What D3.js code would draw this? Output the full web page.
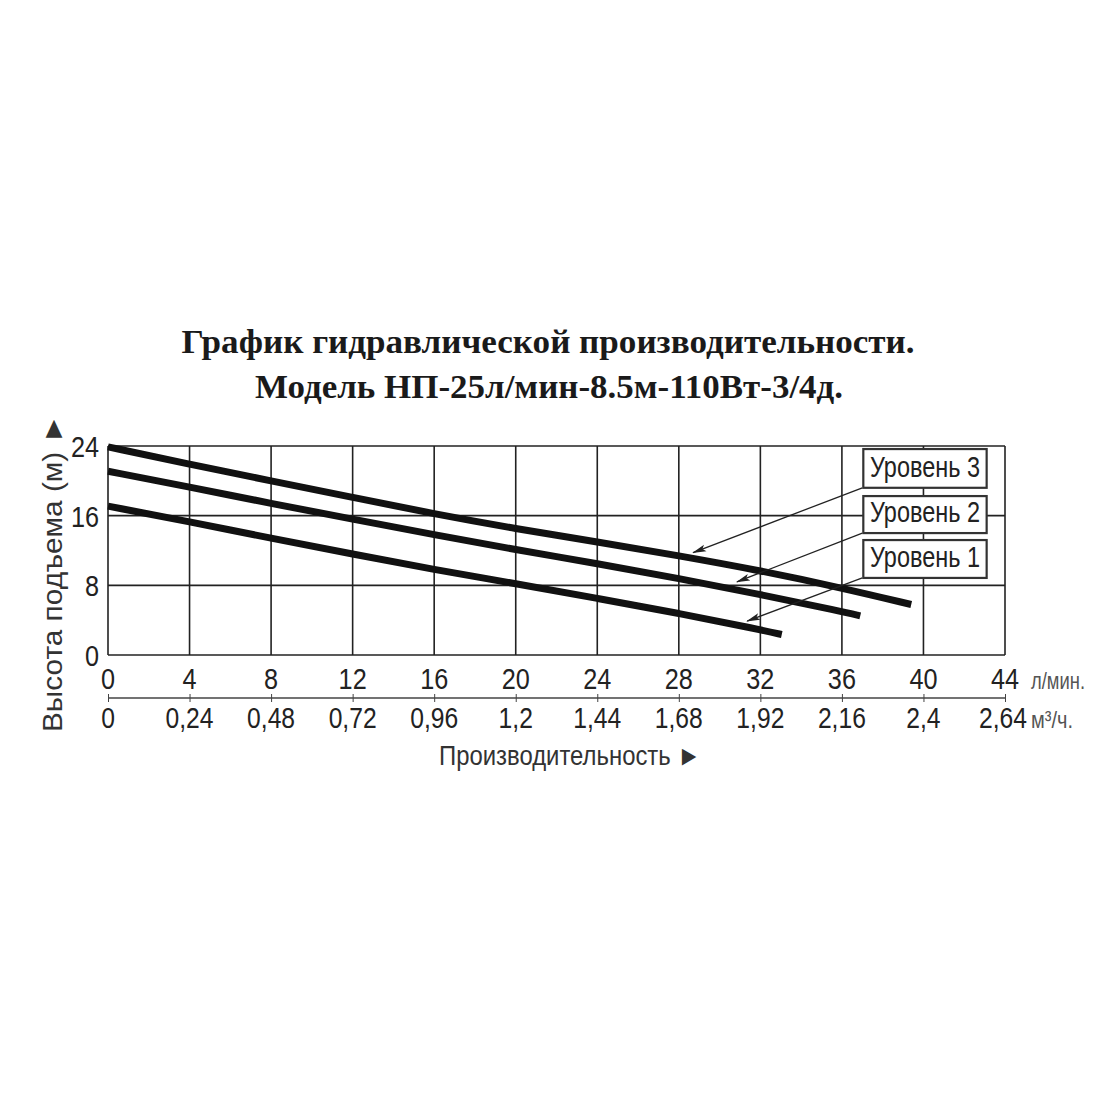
<!DOCTYPE html>
<html>
<head>
<meta charset="utf-8">
<script src="https://cdn.jsdelivr.net/npm/d3@7"></script>
<style>
  body { margin: 0; background: #fff; }
  svg { display: block; }
  .narrow { font-family: "Liberation Sans Narrow", "Arial Narrow", "Liberation Sans", sans-serif; }
</style>
</head>
<body>
<svg width="1100" height="1100"></svg>
<script>
// расход, л/мин
const flowTicks = [0, 4, 8, 12, 16, 20, 24, 28, 32, 36, 40, 44];
// расход, м3/ч
const flowM3Ticks = ["0", "0,24", "0,48", "0,72", "0,96", "1,2", "1,44", "1,68", "1,92", "2,16", "2,4", "2,64"];
// высота подъема, м
const headTicks = [0, 8, 16, 24];

// кривые по уровням (x — л/мин, y — м)
const level1 = [[0, 17.1], [4, 15.3], [8, 13.4], [12, 11.6], [16, 9.8], [20, 8.2], [24, 6.5], [28, 4.8], [32, 2.9], [33.05, 2.35]];
const level2 = [[0, 21.1], [4, 19.3], [8, 17.4], [12, 15.6], [16, 13.8], [20, 12.1], [24, 10.5], [28, 8.8], [32, 6.95], [36, 5.0], [36.9, 4.5]];
const level3 = [[0, 23.9], [4, 21.9], [8, 20.0], [12, 18.1], [16, 16.2], [20, 14.5], [24, 13.0], [28, 11.4], [32, 9.7], [36, 7.7], [39.4, 5.8]];

const levelNames = ["Уровень 3", "Уровень 2", "Уровень 1"];
// рамки подписей (x0, x1, yTop, yBottom) и куда указывает стрелка
const labelBoxes = [[37.05, 43.1, 23.65, 19.2], [37.05, 43.1, 18.25, 14.0], [37.05, 43.1, 13.2, 8.85]];
const arrowTargets = [[28.7, 11.75], [30.85, 8.4], [31.35, 3.9]];

const svg = d3.select("svg");

const x = d3.scaleLinear().domain([0, 44]).range([108, 1005]);
const y = d3.scaleLinear().domain([0, 24]).range([655, 446]);
// вторая шкала в м3/ч
const x2 = d3.scaleLinear().domain([0, 2.64]).range([108, 1005]);

// узкий шрифт: сжимаем текст по горизонтали
function squeeze(sel, k) {
  sel.each(function() {
    const w = this.getComputedTextLength();
    d3.select(this).attr("textLength", w * k).attr("lengthAdjust", "spacingAndGlyphs");
  });
}

// заголовок
const title = svg.append("g")
    .attr("font-family", "'Liberation Serif', 'Times New Roman', serif")
    .attr("font-weight", "bold")
    .attr("font-size", 34)
    .attr("fill", "#1a1a1a")
    .attr("text-anchor", "middle");
title.append("text").attr("x", 548).attr("y", 353)
    .attr("textLength", 733).attr("lengthAdjust", "spacingAndGlyphs")
    .text("График гидравлической производительности.");
title.append("text").attr("x", 549).attr("y", 398)
    .attr("textLength", 588).attr("lengthAdjust", "spacingAndGlyphs")
    .text("Модель НП-25л/мин-8.5м-110Вт-3/4д.");

// сетка
const grid = svg.append("g").attr("stroke", "#222").attr("stroke-width", 1.6);
grid.selectAll("line.v").data(flowTicks).enter().append("line")
    .attr("class", "v")
    .attr("x1", d => x(d)).attr("x2", d => x(d))
    .attr("y1", y(24)).attr("y2", y(0));
grid.selectAll("line.h").data(headTicks).enter().append("line")
    .attr("class", "h")
    .attr("x1", x(0)).attr("x2", x(44))
    .attr("y1", d => y(d)).attr("y2", d => y(d));

// кривые
const line = d3.line().x(d => x(d[0])).y(d => y(d[1])).curve(d3.curveBasis);
svg.append("g").selectAll("path").data([level1, level2, level3]).enter().append("path")
    .attr("d", line)
    .attr("fill", "none")
    .attr("stroke", "#111")
    .attr("stroke-width", 7)
    .attr("stroke-linejoin", "round");

// стрелки к кривым
svg.append("defs").append("marker")
    .attr("id", "arr").attr("viewBox", "0 0 14 8")
    .attr("refX", 13).attr("refY", 4)
    .attr("markerWidth", 14).attr("markerHeight", 8)
    .attr("markerUnits", "userSpaceOnUse")
    .attr("orient", "auto")
  .append("path").attr("d", "M0,0.5 L14,4 L0,7.5 L3,4 Z").attr("fill", "#222");

svg.append("g").selectAll("line").data(labelBoxes).enter().append("line")
    .attr("x1", d => x(d[0]) - 1).attr("y1", d => y(d[3]))
    .attr("x2", (d, i) => x(arrowTargets[i][0])).attr("y2", (d, i) => y(arrowTargets[i][1]))
    .attr("stroke", "#222").attr("stroke-width", 1.3)
    .attr("marker-end", "url(#arr)");

// подписи уровней
const boxes = svg.append("g").selectAll("g").data(labelBoxes).enter().append("g");
boxes.append("rect")
    .attr("x", d => x(d[0])).attr("y", d => y(d[2]))
    .attr("width", d => x(d[1]) - x(d[0])).attr("height", d => y(d[3]) - y(d[2]))
    .attr("fill", "#fff").attr("stroke", "#333").attr("stroke-width", 2.2);
boxes.append("text")
    .attr("class", "narrow")
    .attr("x", d => (x(d[0]) + x(d[1])) / 2)
    .attr("y", d => y(d[3]) - 11)
    .attr("text-anchor", "middle")
    .attr("font-size", 29)
    .attr("fill", "#222")
    .attr("textLength", 110).attr("lengthAdjust", "spacingAndGlyphs")
    .text((d, i) => levelNames[i]);

// ось Y
svg.append("g").attr("class", "narrow").attr("font-size", 29).attr("fill", "#222")
  .selectAll("text").data(headTicks).enter().append("text")
    .attr("x", 99).attr("y", d => y(d) + 11)
    .attr("text-anchor", "end")
    .text(d => d)
    .call(squeeze, 0.87);
svg.append("text")
    .attr("class", "narrow")
    .attr("transform", "translate(62,573) rotate(-90)")
    .attr("text-anchor", "middle")
    .attr("font-size", 28)
    .attr("fill", "#333")
    .attr("textLength", 318).attr("lengthAdjust", "spacingAndGlyphs")
    .text("Высота подъема (м) ►");

// ось X, л/мин
svg.append("g").attr("class", "narrow").attr("font-size", 29).attr("fill", "#222")
  .selectAll("text").data(flowTicks).enter().append("text")
    .attr("x", d => x(d)).attr("y", 689)
    .attr("text-anchor", "middle")
    .text(d => d)
    .call(squeeze, 0.87);
svg.append("text").attr("class", "narrow")
    .attr("x", 1031).attr("y", 689)
    .attr("font-size", 24).attr("fill", "#555")
    .attr("textLength", 54).attr("lengthAdjust", "spacingAndGlyphs")
    .text("л/мин.");

// ось X, м3/ч
const ax2 = svg.append("g").attr("transform", "translate(0,698)")
    .call(d3.axisBottom(x2).tickValues(d3.range(12).map(i => i * 0.24)).tickSize(5).tickFormat(""));
ax2.select(".domain").attr("stroke", "#444").attr("stroke-width", 1.5).attr("d", "M108,0H1005");
ax2.selectAll(".tick line").attr("stroke", "#444").attr("y1", -4).attr("y2", 4);
svg.append("g").attr("class", "narrow").attr("font-size", 29).attr("fill", "#222")
  .selectAll("text").data(flowM3Ticks).enter().append("text")
    .attr("x", (d, i) => x2(i * 0.24) - (i === 11 ? 2 : 0)).attr("y", 728)
    .attr("text-anchor", "middle")
    .text(d => d)
    .call(squeeze, 0.85);
svg.append("text").attr("class", "narrow")
    .attr("x", 1031).attr("y", 728)
    .attr("font-size", 24).attr("fill", "#555")
    .attr("textLength", 42).attr("lengthAdjust", "spacingAndGlyphs")
    .text("м³/ч.");

svg.append("text").attr("class", "narrow")
    .attr("x", 570).attr("y", 765)
    .attr("text-anchor", "middle")
    .attr("font-size", 28)
    .attr("fill", "#333")
    .attr("textLength", 262).attr("lengthAdjust", "spacingAndGlyphs")
    .text("Производительность ►");
</script>
</body>
</html>
